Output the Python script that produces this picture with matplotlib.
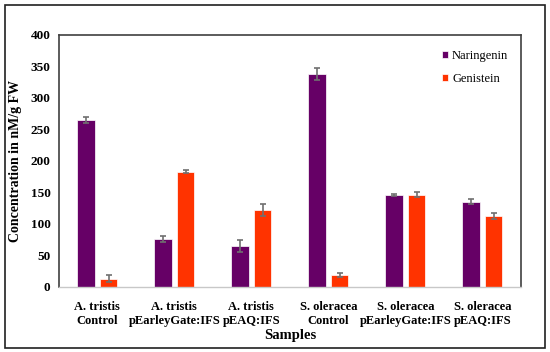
import matplotlib.pyplot as plt
import numpy as np
from matplotlib.patches import Rectangle

samples = ['A. tristis\nControl', 'A. tristis\npEarleyGate:IFS', 'A. tristis\npEAQ:IFS',
           'S. oleracea\nControl', 'S. oleracea\npEarleyGate:IFS', 'S. oleracea\npEAQ:IFS']
naringenin = [265, 76, 65, 338, 146, 135]
naringenin_err = [5, 4, 10, 9, 1, 4]
genistein = [13, 183, 122, 19, 146, 113]
genistein_err = [6, 2, 9, 3, 4, 5]

plt.rcParams['font.family'] = ['Liberation Serif', 'DejaVu Serif']

fig = plt.figure(figsize=(5.5, 3.52), dpi=100)
ax = fig.add_axes([0.107, 0.185, 0.840, 0.716])

x = np.arange(len(samples))
w = 0.23
err_kw = dict(ecolor='#707070', elinewidth=1.2, capsize=2.5, capthick=1.2)
ax.bar(x - 0.145, naringenin, w, yerr=naringenin_err, color='#660066',
       edgecolor='white', linewidth=0.5, label='Naringenin', error_kw=err_kw)
ax.bar(x + 0.145, genistein, w, yerr=genistein_err, color='#FF3300',
       edgecolor='white', linewidth=0.5, label='Genistein', error_kw=err_kw)

ax.set_xlim(-0.5, len(samples) - 0.5)
ax.set_ylim(0, 400)
ax.set_yticks(range(0, 401, 50))
ax.set_xticks(x)
ax.set_xticklabels(samples, fontweight='bold', fontsize=9)
for t in ax.get_yticklabels():
    t.set_fontweight('bold')
    t.set_fontsize(9.5)
ax.tick_params(length=0, pad=6)
ax.tick_params(axis='x', pad=10)

for s in ['left', 'top', 'right']:
    ax.spines[s].set_color('#404040')
    ax.spines[s].set_linewidth(1.2)
ax.spines['bottom'].set_color('#c8c8c8')
ax.spines['bottom'].set_linewidth(1.0)

ax.set_ylabel('Concentration in nM/g FW', fontweight='bold', fontsize=10)
ax.yaxis.set_label_coords(-0.08, 0.5)
ax.set_xlabel('Samples', fontweight='bold', fontsize=10.5, labelpad=2)

ax.legend(loc='upper left', bbox_to_anchor=(0.805, 0.985), frameon=False,
          fontsize=9, handlelength=0.5, handleheight=0.5, handletextpad=0.3,
          labelspacing=0.9)

fig.patches.append(Rectangle((0.009, 0.012), 0.981, 0.974, transform=fig.transFigure,
                             fill=False, edgecolor='#202020', linewidth=1.2))

fig.savefig('out.png', dpi=100)
